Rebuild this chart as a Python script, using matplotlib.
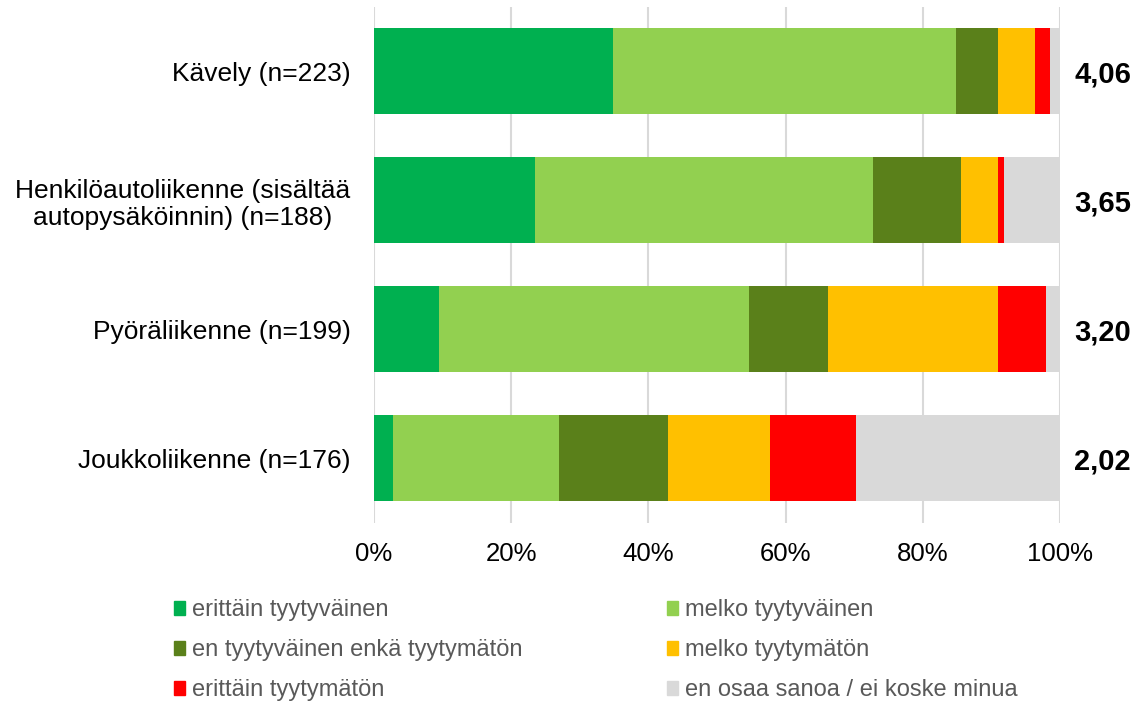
import matplotlib.pyplot as plt
from matplotlib.patches import Patch
from matplotlib.ticker import FuncFormatter

plt.rcParams['font.family'] = ['Liberation Sans', 'DejaVu Sans']

categories = ['Kävely (n=223)',
              'Henkilöautoliikenne (sisältää\nautopysäköinnin) (n=188)',
              'Pyöräliikenne (n=199)',
              'Joukkoliikenne (n=176)']
averages = ['4,06', '3,65', '3,20', '2,02']

series_names = ['erittäin tyytyväinen', 'melko tyytyväinen',
                'en tyytyväinen enkä tyytymätön', 'melko tyytymätön',
                'erittäin tyytymätön', 'en osaa sanoa / ei koske minua']
colors = ['#00b050', '#92d050', '#5a801a', '#ffc000', '#ff0000', '#d9d9d9']

# percent per category, same order as categories
erittain_tyyt = [34.8, 23.5, 9.5, 2.8]
melko_tyyt = [50.0, 49.2, 45.2, 24.2]
neutraali = [6.2, 12.8, 11.5, 15.9]
melko_tyytym = [5.4, 5.4, 24.7, 14.8]
erittain_tyytym = [2.2, 1.0, 7.1, 12.6]
eos = [1.4, 8.1, 2.0, 29.7]
series = [erittain_tyyt, melko_tyyt, neutraali, melko_tyytym, erittain_tyytym, eos]

fig = plt.figure(figsize=(11.42, 7.01), dpi=100)
ax = fig.add_axes([0.3275, 0.2546, 0.6007, 0.7361])

ypos = list(range(len(categories)))
left = [0.0] * len(categories)
for vals, name, c in zip(series, series_names, colors):
    ax.barh(ypos, vals, left=left, height=0.667, color=c, label=name, zorder=3)
    left = [l + v for l, v in zip(left, vals)]

ax.set_xlim(0, 100)
ax.set_ylim(3.5, -0.5)
ax.set_xticks(range(0, 101, 20))
ax.xaxis.set_major_formatter(FuncFormatter(lambda v, p: f'{int(v)}%'))
ax.set_yticks(ypos)
ax.set_yticklabels(categories, fontsize=19, color='black', linespacing=1.2)
for lbl in ax.get_yticklabels():
    lbl.set_multialignment('center')
ax.tick_params(axis='x', labelsize=18.5, length=0, pad=14)
ax.tick_params(axis='y', length=0, pad=17)
ax.grid(axis='x', color='#d9d9d9', linewidth=1.5, zorder=0)
for s in ax.spines.values():
    s.set_visible(False)

for y, a in zip(ypos, averages):
    ax.text(102.1, y + 0.03, a, fontsize=21, fontweight='bold', va='center', ha='left')

handles = [Patch(color=c) for c in colors]
order = [0, 2, 4, 1, 3, 5]
fig.legend([handles[i] for i in order], [series_names[i] for i in order],
           ncol=2, loc='upper left', bbox_to_anchor=(0.1524, 0.145),
           frameon=False, fontsize=17, labelcolor='#595959',
           handlelength=0.47, handleheight=0.55, handletextpad=0.3,
           columnspacing=6.1, labelspacing=0.76, borderpad=0, borderaxespad=0)

fig.savefig('out.png', dpi=100)
